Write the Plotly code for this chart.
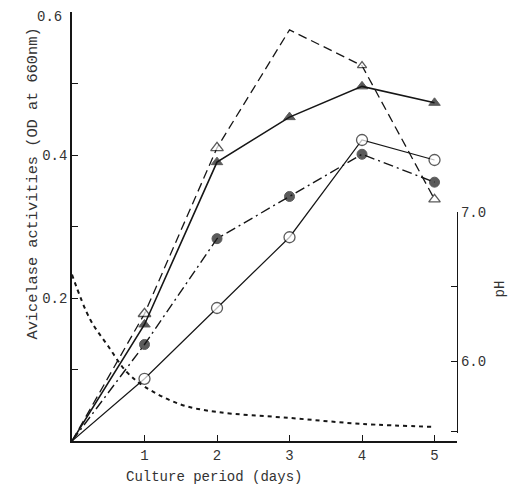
import plotly.graph_objects as go

# ---- data ----
days = [0, 1, 2, 3, 4, 5]
open_tri = [0, 0.178, 0.41, 0.575, 0.525, 0.338]       # open triangles, long dash
filled_tri = [0, 0.163, 0.39, 0.453, 0.496, 0.473]     # filled triangles, solid
filled_circ = [0, 0.135, 0.283, 0.342, 0.401, 0.362]   # filled circles, dash-dot
open_circ = [0, 0.087, 0.186, 0.285, 0.421, 0.393]     # open circles, solid

ph_days = [0, 0.25, 0.5, 0.75, 1, 1.5, 2, 3, 4, 5]
ph_vals = [6.58, 6.28, 6.10, 5.93, 5.83, 5.71, 5.66, 5.62, 5.58, 5.56]

y_ticks = [0.1, 0.2, 0.3, 0.4, 0.5, 0.6]
y_ticktext = ["", "0.2", "", "0.4", "", ""]
top_label = "0.6"
x_ticks = [1, 2, 3, 4, 5]
ph_ticks = [5.53, 6.0, 6.5, 7.0]
ph_ticktext = ["", "6.0", "", "7.0"]

FONT = "Liberation Mono"
INK = "#161616"
TXT = "#333333"

fig = go.Figure()

fig.add_trace(go.Scatter(
    x=days, y=open_tri, mode="lines+markers",
    line=dict(color=INK, width=1.3, dash="9px,5px"),
    marker=dict(symbol="triangle-up", size=[0, 11, 11, 0, 8, 10],
                color="white", line=dict(color=INK, width=1.3)),
    showlegend=False))

fig.add_trace(go.Scatter(
    x=days, y=filled_tri, mode="lines+markers",
    line=dict(color=INK, width=1.6),
    marker=dict(symbol="triangle-up", size=[0, 10, 10, 10, 10, 10],
                color=INK, line=dict(color=INK, width=1)),
    showlegend=False))

fig.add_trace(go.Scatter(
    x=days, y=filled_circ, mode="lines+markers",
    line=dict(color=INK, width=1.4, dash="10px,4px,2px,4px"),
    marker=dict(symbol="circle", size=[0, 10, 10, 10, 10, 10],
                color=INK, line=dict(color=INK, width=1)),
    showlegend=False))

fig.add_trace(go.Scatter(
    x=days, y=open_circ, mode="lines+markers",
    line=dict(color=INK, width=1.2),
    marker=dict(symbol="circle", size=[0, 11, 11, 11, 11, 11],
                color="white", line=dict(color=INK, width=1.3)),
    showlegend=False))

fig.add_trace(go.Scatter(
    x=ph_days, y=ph_vals, mode="lines", yaxis="y2",
    line=dict(color=INK, width=2, dash="4px,4px", shape="spline"),
    showlegend=False))

fig.update_layout(
    width=517, height=490,
    margin=dict(l=64, r=68, t=4, b=57, autoexpand=False),
    paper_bgcolor="white", plot_bgcolor="rgba(0,0,0,0)",
    font=dict(family=FONT, size=14, color=INK),
    xaxis=dict(range=[0, 5.31], tickvals=x_ticks, ticks="inside", ticklen=6,
               tickcolor=INK, showgrid=False, zeroline=False,
               showline=True, linecolor=INK, linewidth=2, automargin=False,
               tickfont=dict(family=FONT, size=14, color=TXT)),
    yaxis=dict(range=[0, 0.6], tickvals=y_ticks, ticktext=y_ticktext,
               ticks="inside", ticklen=6, tickcolor=INK, showgrid=False,
               zeroline=False, showline=True, linecolor=INK, linewidth=1.5,
               automargin=False,
               tickfont=dict(family=FONT, size=14, color=TXT)),
    yaxis2=dict(range=[5.52, 7.0], domain=[0.019, 0.534], anchor="x",
                side="right", tickvals=ph_ticks, ticktext=ph_ticktext,
                ticks="inside", ticklen=6, tickcolor=INK, showgrid=False,
                zeroline=False, showline=True, linecolor=INK, linewidth=1.3,
                automargin=False,
                tickfont=dict(family=FONT, size=14, color=TXT)),
    annotations=[
        dict(text=top_label, xref="paper", yref="paper",
             x=-0.024, y=1.0093, xanchor="right", yanchor="top",
             showarrow=False, borderpad=0,
             font=dict(family=FONT, size=14, color=TXT)),
        dict(text="Avicelase activities (OD at 660nm)", textangle=-90,
             xref="paper", yref="paper", x=-0.13, y=0.600,
             showarrow=False, font=dict(family=FONT, size=15.3, color=TXT)),
        dict(text="Culture period (days)",
             xref="paper", yref="paper", x=0.369, y=-0.107,
             showarrow=False, font=dict(family=FONT, size=14, color=TXT)),
        dict(text="pH", textangle=-90,
             xref="paper", yref="paper", x=1.138, y=0.329,
             showarrow=False, font=dict(family=FONT, size=14, color=TXT)),
    ],
)

fig.write_html("out.html")
